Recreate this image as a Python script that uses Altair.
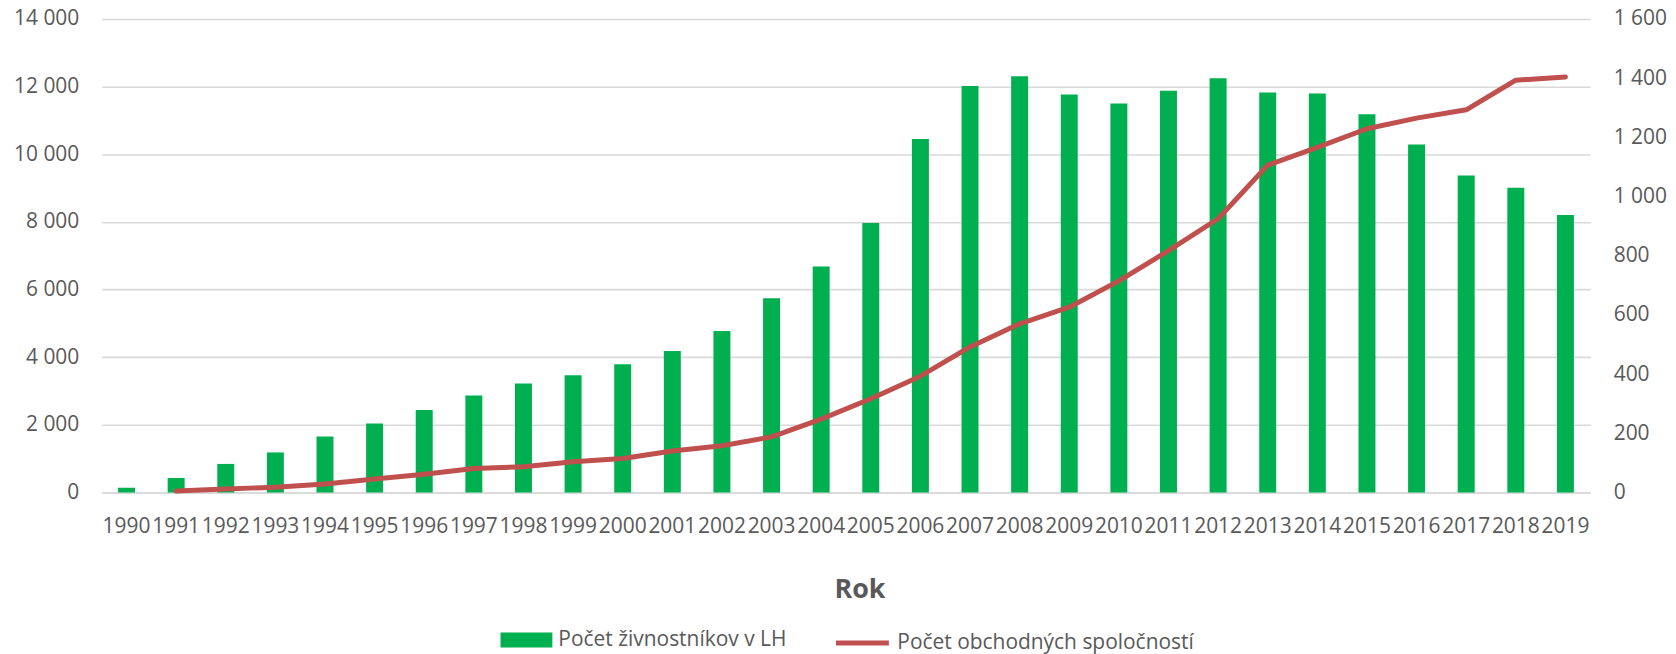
import altair as alt
import pandas as pd

years = [str(y) for y in range(1990, 2020)]
zivnostnici = [140, 430, 845, 1185, 1655, 2040, 2440, 2865, 3225, 3470,
               3795, 4185, 4775, 5745, 6685, 7970, 10450, 12020, 12305, 11765,
               11500, 11875, 12245, 11825, 11795, 11185, 10285, 9375, 9010, 8205]
spolocnosti = [None, 5, 12, 18, 29, 46, 62, 81, 87, 104,
               115, 140, 158, 188, 248, 317, 393, 492, 570, 626,
               715, 817, 925, 1106, 1166, 1229, 1265, 1293, 1393, 1404]
name_bar = "Počet živnostníkov v LH"
name_line = "Počet obchodných spoločností"
left_ticks = list(range(0, 14001, 2000))
right_ticks = list(range(0, 1601, 200))

df = pd.DataFrame({"rok": years, "ziv": zivnostnici, "spol": spolocnosti})

TXT = "#595959"
GRID = "#d9d9d9"
GREEN = "#00b050"
RED = "#c0504d"
FONT = "Open Sans"

x_enc = alt.X(
    "rok:N",
    sort=years,
    scale=alt.Scale(paddingInner=0.658, paddingOuter=0.329),
    axis=alt.Axis(
        title="Rok", titleFontSize=27, titleFontWeight="bold", titleColor=TXT,
        titleFont=FONT, titleX=760, titleY=105, titleBaseline="alphabetic",
        titleAlign="center",
        labelAngle=0, labelFontSize=21, labelColor=TXT, labelFont=FONT,
        labelOverlap=False, labelBound=False, labelFlush=False,
        labelPadding=40, labelBaseline="alphabetic",
        ticks=False, tickSize=0, domainColor=GRID, domainWidth=1.6, grid=False,
    ),
)

bars = alt.Chart(df).transform_calculate(serie=f"'{name_bar}'").mark_bar(color=GREEN).encode(
    x=x_enc,
    y=alt.Y(
        "ziv:Q",
        scale=alt.Scale(domain=[0, 14000], nice=False),
        axis=alt.Axis(
            orient="left", title=None, values=left_ticks, format=",d",
            labelFontSize=21, labelColor=TXT, labelFont=FONT, labelPadding=23,
            ticks=False, tickSize=0, domain=False,
            grid=True, gridColor=GRID, gridWidth=1.6,
        ),
    ),
    color=alt.Color(
        "serie:N",
        scale=alt.Scale(domain=[name_bar], range=[GREEN]),
        legend=alt.Legend(
            title=None, orient="none", legendX=400, legendY=597,
            symbolType="M-1,-0.29H1V0.29H-1Z", symbolSize=2704,
            symbolStrokeWidth=0, labelOffset=6, labelLimit=600,
            labelFontSize=21, labelColor=TXT, labelFont=FONT, padding=0,
        ),
    ),
)

line = alt.Chart(df).transform_calculate(serie2=f"'{name_line}'").mark_line(
    strokeWidth=5, strokeCap="round", strokeJoin="round"
).encode(
    x=alt.X("rok:N", sort=years),
    y=alt.Y(
        "spol:Q",
        scale=alt.Scale(domain=[0, 1600], nice=False),
        axis=alt.Axis(
            orient="right", title=None, values=right_ticks, format=",d",
            labelFontSize=21, labelColor=TXT, labelFont=FONT, labelPadding=23,
            ticks=False, tickSize=0, domain=False, grid=False,
        ),
    ),
    stroke=alt.Stroke(
        "serie2:N",
        scale=alt.Scale(domain=[name_line], range=[RED]),
        legend=alt.Legend(
            title=None, orient="none", legendX=734, legendY=597,
            symbolType="stroke", symbolSize=2809, symbolStrokeWidth=5,
            labelOffset=6, labelLimit=600,
            labelFontSize=21, labelColor=TXT, labelFont=FONT, padding=0,
        ),
    ),
)

chart = alt.layer(bars, line).resolve_scale(
    y="independent", color="independent", stroke="independent"
).properties(
    width=1493, height=475,
    autosize=alt.AutoSizeParams(type="none"),
    padding={"left": 94, "top": 10, "right": 78, "bottom": 161},
).configure(
    font=FONT,
    locale={"number": {"decimal": ",", "thousands": " ", "grouping": [3], "currency": ["", " €"]}},
).configure_view(stroke=None)

chart.save("out.html", embed_options={"renderer": "svg", "actions": False})
